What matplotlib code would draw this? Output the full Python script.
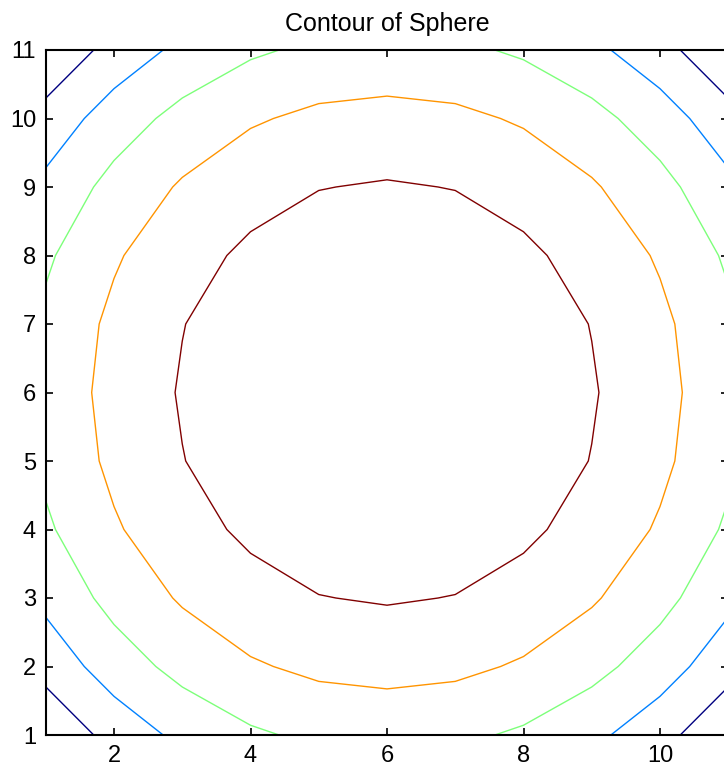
import numpy as np
import matplotlib
matplotlib.use("Agg")
import matplotlib.pyplot as plt

# upper half of a sphere of radius 10, sampled on an 11 x 11 integer grid
offsets = [-5, -4, -3, -2, -1, 0, 1, 2, 3, 4, 5]
radius = 10
levels = [7.5, 8.0, 8.5, 9.0, 9.5]
ticks_x = [2, 4, 6, 8, 10]
ticks_y = [1, 2, 3, 4, 5, 6, 7, 8, 9, 10, 11]

u = np.array(offsets)
U, V = np.meshgrid(u, u)
Z = np.sqrt(radius**2 - U**2 - V**2)
idx = np.arange(1, len(offsets) + 1)

plt.rcParams['font.family'] = ['Liberation Sans', 'DejaVu Sans']

fig = plt.figure(figsize=(7.24, 7.69), dpi=100)
ax = fig.add_axes([45.75 / 724, 34 / 769, 682.5 / 724, 685 / 769])
ax.contour(idx, idx, Z, levels=levels, cmap="jet", vmin=levels[0], vmax=levels[-1],
           linewidths=1.0)

ax.set_xlim(1, 11)
ax.set_ylim(1, 11)
ax.set_xticks(ticks_x)
ax.set_yticks(ticks_y)
ax.tick_params(direction="in", length=5, width=1.2, top=True, right=True,
               labelsize=17, pad=7)
for s in ax.spines.values():
    s.set_linewidth(1.5)
ax.set_title("Contour of Sphere", fontsize=18, pad=14)

fig.savefig("out.png", dpi=100)
